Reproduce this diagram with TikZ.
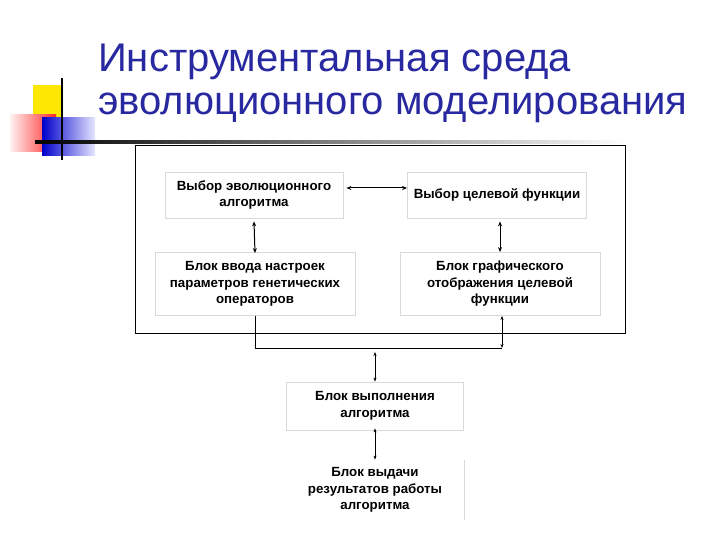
\documentclass[tikz,border=0pt]{standalone}
\usepackage{fontspec}
\setmainfont{Liberation Sans}
\usetikzlibrary{arrows.meta}
\begin{document}
\begin{tikzpicture}[x=1pt,y=-1pt,
  box/.style={draw=black!15,line width=0.8pt,align=center,font=\bfseries\fontsize{13.3}{16.5}\selectfont,inner sep=0pt},
  arr/.style={{Stealth[length=5pt,width=4pt]}-{Stealth[length=5pt,width=4pt]},line width=1pt},
  sarr/.style={{Stealth[length=4pt,width=3pt]}-{Stealth[length=4pt,width=3pt]},line width=0.6pt}]
\useasboundingbox (0,0) rectangle (720,540);
\definecolor{ttl}{RGB}{40,40,160}
% decoration
\fill[yellow!90!orange] (33,85) rectangle (63,118);
\shade[left color=red!5,right color=red!85] (10,115) rectangle (56,152);
\shade[left color=blue!80!black,right color=blue!10] (42,118) rectangle (95,156);
\draw[line width=1.5pt] (62,78) -- (62,160);
\shade[left color=black,right color=white] (35,141) rectangle (625,143.5);
% title
\node[anchor=base west,inner sep=0,text=ttl,font=\fontsize{40}{44}\selectfont] (t1) at (98,72) {Инструментальная среда};
\node[anchor=base west,inner sep=0,text=ttl,font=\fontsize{40}{44}\selectfont] (t2) at (98,115) {эволюционного моделирования};
% frame
\draw[line width=0.9pt] (135,145) rectangle (625,333);
\node[box,minimum width=178,minimum height=46] (a) at (254,195) {Выбор эволюционного\\алгоритма};
\node[box,minimum width=179,minimum height=46] (b) at (497,195) {Выбор целевой функции};
\node[box,minimum width=200,minimum height=63] (c) at (255,284) {Блок ввода настроек\\параметров генетических\\операторов};
\node[box,minimum width=200,minimum height=63] (d) at (500,284) {Блок графического\\отображения целевой\\функции};
\node[box,minimum width=177,minimum height=48] (e) at (375,406) {Блок выполнения\\алгоритма};
\node[box,draw=none,minimum width=177,minimum height=60] (f) at (375,490) {Блок выдачи\\результатов работы\\алгоритма};
\draw[black!15,line width=0.8pt] (f.north east) -- (f.south east);
\draw[arr] (a.east) ++(3,-7) coordinate (a1) -- (b.west |- a1);
\draw[arr] (a.south) ++(0,3) -- ([yshift=-1]c.north);
\draw[arr] (b.south) ++(3,3) coordinate (b1) -- (d.north -| b1);
\coordinate (j1) at (255,348);
\coordinate (j2) at (502,348);
\draw[line width=0.6pt] (c.south) -- (j1) -- (j2);
\draw[sarr] ([xshift=2]d.south) -- (j2);
\draw[sarr] (375,352) -- (e.north);
\draw[sarr] ([yshift=2]e.south) -- (f.north);
\end{tikzpicture}
\end{document}
